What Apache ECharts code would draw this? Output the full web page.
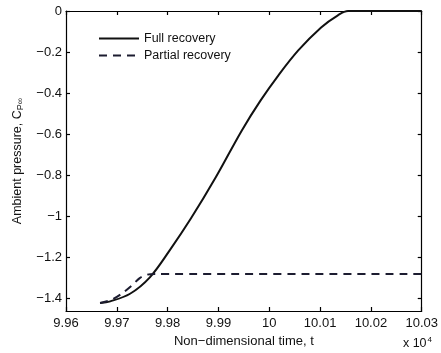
<!DOCTYPE html>
<html>
<head>
<meta charset="utf-8">
<script src="https://cdn.jsdelivr.net/npm/echarts@6/dist/echarts.min.js"></script>
<style>
html,body{margin:0;padding:0;background:#fff;}
#c{width:441px;height:353px;}
</style>
</head>
<body>
<div id="c"></div>
<script>
// ---- data ----
var fullT = [9.9667, 9.9687, 9.9726, 9.9765, 9.9804, 9.9846, 9.9895, 9.9946, 9.9983, 10.0018, 10.0057, 10.0102, 10.0135, 10.0155, 10.0300];
var fullC = [-1.421, -1.413, -1.376, -1.296, -1.165, -1.009, -0.808, -0.581, -0.435, -0.313, -0.192, -0.080, -0.021, 0.000, 0.000];
var partT = [9.9667, 9.9690, 9.9710, 9.9730, 9.9745, 9.9760, 9.9775, 10.0300];
var partC = [-1.421, -1.405, -1.375, -1.335, -1.300, -1.283, -1.280, -1.280];
var xTicks = [9.96, 9.97, 9.98, 9.99, 10.00, 10.01, 10.02, 10.03];
var xTickLabels = ['9.96', '9.97', '9.98', '9.99', '10', '10.01', '10.02', '10.03'];
var yTicks = [0, -0.2, -0.4, -0.6, -0.8, -1.0, -1.2, -1.4];
var yTickLabels = ['0', '\u22120.2', '\u22120.4', '\u22120.6', '\u22120.8', '\u22121', '\u22121.2', '\u22121.4'];
var seriesNames = ['Full recovery', 'Partial recovery'];

function pairs(a, b) { return a.map(function (v, i) { return [v, b[i]]; }); }
function lookup(ticks, labels, v) {
  for (var i = 0; i < ticks.length; i++) if (Math.abs(ticks[i] - v) < 1e-6) return labels[i];
  return '';
}
var FONT = '"Liberation Sans", Arial, sans-serif';
var axisLine = { show: true, onZero: false, lineStyle: { color: '#000', width: 1.2 } };
var tick = function (vals) { return { show: true, inside: true, length: 4, customValues: vals, lineStyle: { color: '#000', width: 1.2 } }; };

var chart = echarts.init(document.getElementById('c'), null, { renderer: 'canvas' });
chart.setOption({
  backgroundColor: '#fff',
  animation: false,
  textStyle: { fontFamily: FONT },
  grid: { left: 66, right: 16, top: 11, bottom: 42, containLabel: false },
  legend: {
    orient: 'vertical', left: 93, top: 27, itemWidth: 40, itemHeight: 14, itemGap: 4,
    itemStyle: { opacity: 0, borderWidth: 0 },
    textStyle: { fontFamily: FONT, fontSize: 12.5, color: '#111' },
    data: seriesNames
  },
  xAxis: [{
    type: 'value', min: 9.96, max: 10.03, position: 'bottom',
    axisLine: axisLine, axisTick: tick(xTicks), splitLine: { show: false },
    axisLabel: { show: true, customValues: xTicks, margin: 6, color: '#111', fontSize: 13, fontFamily: FONT,
      formatter: function (v) { return lookup(xTicks, xTickLabels, v); } },
    name: 'Non\u2212dimensional time, t', nameLocation: 'middle', nameGap: 19,
    nameTextStyle: { fontSize: 13, color: '#111', fontFamily: FONT }
  }, {
    type: 'value', min: 9.96, max: 10.03, position: 'top',
    axisLine: axisLine, axisTick: tick(xTicks), axisLabel: { show: false }, splitLine: { show: false }
  }],
  yAxis: [{
    type: 'value', min: -1.46, max: 0, position: 'left',
    axisLine: axisLine, axisTick: tick(yTicks), splitLine: { show: false },
    axisLabel: { show: true, customValues: yTicks, margin: 4, color: '#111', fontSize: 13, fontFamily: FONT,
      formatter: function (v) { return lookup(yTicks, yTickLabels, v); } },
    name: '{a|Ambient pressure, C}{s|P\u221e}', nameLocation: 'middle', nameGap: 40, nameRotate: 90,
    nameTextStyle: { color: '#111', fontFamily: FONT, rich: {
      a: { fontSize: 12.5, fontFamily: FONT, color: '#111' },
      s: { fontSize: 9, fontFamily: FONT, color: '#111', padding: [6, 0, 0, 0] }
    } }
  }, {
    type: 'value', min: -1.46, max: 0, position: 'right',
    axisLine: axisLine, axisTick: tick(yTicks), axisLabel: { show: false }, splitLine: { show: false }
  }],
  graphic: [{
    type: 'text', right: 9, top: 336,
    style: { text: '{a|x 10}{b|4}', fill: '#111', rich: {
      a: { fontSize: 12.5, fontFamily: FONT, fill: '#111' },
      b: { fontSize: 8, fontFamily: FONT, fill: '#111', padding: [0, 0, 8, 1] }
    } }
  }],
  series: [{
    name: seriesNames[0], type: 'line', data: pairs(fullT, fullC), smooth: 0.35,
    symbol: 'none', lineStyle: { color: '#111', width: 2, type: 'solid' }, itemStyle: { color: '#111' }
  }, {
    name: seriesNames[1], type: 'line', data: pairs(partT, partC), smooth: 0.3,
    symbol: 'none', lineStyle: { color: '#1c1c30', width: 2, type: [8, 6] }, itemStyle: { color: '#1c1c30' }
  }]
});
</script>
</body>
</html>
